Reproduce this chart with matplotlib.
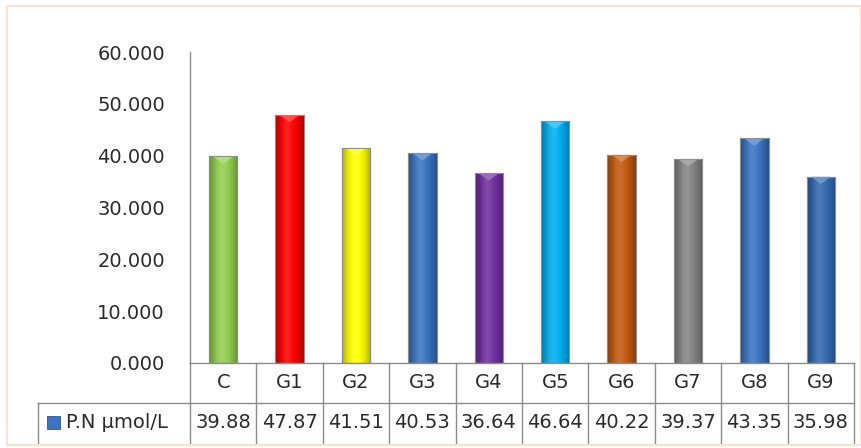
import numpy as np
import matplotlib
matplotlib.use("Agg")
import matplotlib.pyplot as plt
import matplotlib.transforms as mtransforms
from matplotlib.colors import to_rgb
from matplotlib.lines import Line2D
from matplotlib.patches import Rectangle

categories = ["C", "G1", "G2", "G3", "G4", "G5", "G6", "G7", "G8", "G9"]
values = [39.88, 47.87, 41.51, 40.53, 36.64, 46.64, 40.22, 39.37, 43.35, 35.98]
bar_colors = ["#92d050", "#ff0000", "#ffff00", "#3a74c2", "#7030a0",
              "#00b0f0", "#c55a11", "#858585", "#3a74c2", "#3469b0"]
series_name = "P.N \u03bcmol/L"
yticks = [0, 10, 20, 30, 40, 50, 60]

W, H = 862, 448
TEXT = "#2b2b2b"
GRID = "#8a8a8a"
FS = 14


def fx(px):
    return px / W


def fy(py):
    return 1 - py / H


fig = plt.figure(figsize=(W / 100, H / 100), dpi=100)
fig.patch.set_facecolor("white")

# outer chart-area border
frame = Rectangle((fx(7), fy(445)), fx(861) - fx(7), fy(6) - fy(445),
                  transform=fig.transFigure, fill=False,
                  edgecolor="#f8e2d3", linewidth=1.6)
fig.patches.append(frame)

ax_l, ax_r, ax_t, ax_b = 190, 854, 52, 363
ax = fig.add_axes([fx(ax_l), fy(ax_b), fx(ax_r) - fx(ax_l), fy(ax_t) - fy(ax_b)])

x = np.arange(len(categories))
bars = ax.bar(x, values, width=0.43, color=bar_colors,
              edgecolor="#8f8f8f", linewidth=0.8, zorder=2)

# horizontal shading across each bar
t = np.linspace(0, 1, 64)
dark = 0.32 * (1 - np.sin(np.pi * t)) ** 1.2
light = 0.12 * np.exp(-((t - 0.42) / 0.18) ** 2)
for bar, col in zip(bars, bar_colors):
    base = np.array(to_rgb(col))
    row = base[None, :] * (1 - dark[:, None])
    row = row + (1 - row) * light[:, None]
    img = np.clip(row[None, :, :], 0, 1)
    x0, w, h = bar.get_x(), bar.get_width(), bar.get_height()
    im = ax.imshow(img, extent=(x0, x0 + w, 0, h), aspect="auto",
                   interpolation="bilinear", zorder=2.5)
    im.set_clip_path(bar)
    # lighter bevel at the top of the bar
    bevel_h = 0.9
    ax.fill([x0 + w * 0.15, x0 + w * 0.85, x0 + w * 0.5],
            [h - 0.05, h - 0.05, h - bevel_h * 1.6],
            color=np.clip(base + (1 - base) * 0.35, 0, 1), alpha=0.8,
            zorder=2.6, linewidth=0)
    ax.add_patch(Rectangle((x0, 0), w, h, fill=False, edgecolor="#8f8f8f",
                           linewidth=0.8, zorder=2.7))

ax.set_xlim(-0.5, len(categories) - 0.5)
ax.set_ylim(0, 60)
ax.set_yticks(yticks)
ax.set_yticklabels([f"{v:.3f}" for v in yticks])
ax.tick_params(axis="y", length=0, pad=18, labelsize=FS, labelcolor=TEXT)
ax.set_xticks([])
for side in ("top", "right"):
    ax.spines[side].set_visible(False)
ax.spines["left"].set_color(GRID)
ax.spines["bottom"].set_color(GRID)
ax.spines["left"].set_linewidth(1.0)
ax.spines["bottom"].set_linewidth(1.0)

# data table under the axis
row_h = 40 / (ax_b - ax_t)
trans = mtransforms.blended_transform_factory(ax.transData, ax.transAxes)
n = len(categories)
for i in range(n + 1):
    ax.add_line(Line2D([i - 0.5, i - 0.5], [0, -2 * row_h], transform=trans,
                       color=GRID, linewidth=1.0, clip_on=False))
legend_left = (38 - ax_l) / (ax_r - ax_l) * n - 0.5
ax.add_line(Line2D([legend_left, n - 0.5], [-row_h, -row_h], transform=trans,
                   color=GRID, linewidth=1.0, clip_on=False))
ax.add_line(Line2D([legend_left, legend_left], [-row_h, -2 * row_h],
                   transform=trans, color=GRID, linewidth=1.0, clip_on=False))

for i, (cat, v) in enumerate(zip(categories, values)):
    ax.text(i, -0.5 * row_h, cat, transform=trans, ha="center", va="center",
            fontsize=FS, color=TEXT, clip_on=False)
    ax.text(i, -1.5 * row_h, f"{v:.2f}", transform=trans, ha="center",
            va="center", fontsize=FS, color=TEXT, clip_on=False)

# legend key in the table's header cell
key_x = (47 - ax_l) / (ax_r - ax_l) * n - 0.5
key_w = 13 / (ax_r - ax_l) * n
key_h = 13 / (ax_b - ax_t)
ax.add_patch(Rectangle((key_x, -1.5 * row_h - key_h / 2), key_w, key_h,
                       transform=trans, facecolor="#3a74c2",
                       edgecolor="#2a5590", linewidth=0.6, clip_on=False))
ax.text((66 - ax_l) / (ax_r - ax_l) * n - 0.5, -1.5 * row_h, series_name,
        transform=trans, ha="left", va="center", fontsize=FS, color=TEXT,
        clip_on=False)

fig.savefig("out.png", dpi=100)
